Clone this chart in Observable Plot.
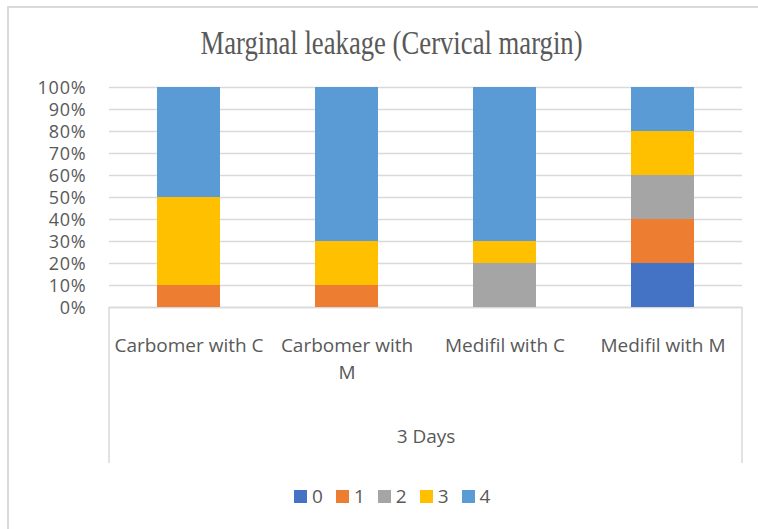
<!DOCTYPE html>
<html>
<head>
<meta charset="utf-8">
<script src="https://cdn.jsdelivr.net/npm/d3@7"></script>
<script src="https://cdn.jsdelivr.net/npm/@observablehq/plot@0.6"></script>
<style>
  html, body { margin: 0; padding: 0; background: #fff; }
  #wrap { position: relative; width: 758px; height: 529px; overflow: hidden; background: #fff; }
  #border { position: absolute; left: 7px; top: 6px; width: 800px; height: 600px;
            border-top: 2px solid #d9d9d9; border-left: 2px solid #d9d9d9; box-sizing: border-box; }
  #chart { position: absolute; left: 0; top: 0; }
  #title { position: absolute; left: 0; top: 32px; width: 783px; text-align: center;
           font-family: "Liberation Serif", "Times New Roman", serif; font-size: 26.7px; line-height: 26.7px;
           color: #595959; transform: scaleY(1.24); transform-origin: 50% 22.4px; white-space: nowrap; }
  #legend { position: absolute; left: 294px; top: 487px; font-family: "Open Sans", sans-serif;
            font-size: 19px; line-height: 19px; color: #595959; white-space: nowrap; }
  #legend .item { display: inline-block; margin-right: 13px; }
  #legend .sw { display: inline-block; width: 13px; height: 13px; margin-right: 5px; vertical-align: baseline; }
  .yax text { letter-spacing: 0.8px; }
</style>
</head>
<body>
<div id="wrap">
  <div id="border"></div>
  <div id="chart"></div>
  <div id="title"></div>
  <div id="legend"></div>
</div>
<script>
const titleText = "Marginal leakage (Cervical margin)";
const categories = ["Carbomer with C", "Carbomer with M", "Medifil with C", "Medifil with M"];
const tickLabels = ["Carbomer with C", "Carbomer with\nM", "Medifil with C", "Medifil with M"];
const groupLabel = "3 Days";
const seriesNames = ["0", "1", "2", "3", "4"];
const values0 = [0, 0, 0, 20];
const values1 = [10, 10, 0, 20];
const values2 = [0, 0, 20, 20];
const values3 = [40, 20, 10, 20];
const values4 = [50, 70, 70, 20];
const seriesColors = ["#4472C4", "#ED7D31", "#A5A5A5", "#FFC000", "#5B9BD5"];
const yTicks = [0, 0.1, 0.2, 0.3, 0.4, 0.5, 0.6, 0.7, 0.8, 0.9, 1];

const allValues = [values0, values1, values2, values3, values4];
const data = seriesNames.flatMap((s, si) =>
  categories.map((c, ci) => ({series: s, category: c, value: allValues[si][ci]}))
);

const W = 758, H = 464;
const chart = Plot.plot({
  width: W,
  height: H,
  marginTop: 87,
  marginLeft: 109,
  marginRight: 16,
  marginBottom: 157,
  style: {fontFamily: "Open Sans, sans-serif", fontSize: "19px", color: "#595959", background: "transparent"},
  x: {domain: categories, paddingInner: 0.6, paddingOuter: 0.3, label: null},
  y: {domain: [0, 1], label: null},
  color: {domain: seriesNames, range: seriesColors},
  marks: [
    Plot.gridY(yTicks, {stroke: "#d9d9d9", strokeOpacity: 1, strokeWidth: 1.5}),
    Plot.ruleY([0], {stroke: "#d9d9d9", strokeWidth: 1.5}),
    Plot.barY(data, Plot.stackY({offset: "normalize"}, {x: "category", y: "value", fill: "series"})),
    Plot.axisY({ticks: yTicks, tickFormat: d3.format(".0%"), tickSize: 0, tickPadding: 23, fontSize: 18, dy: 1,
                fill: "#595959", className: "yax"}),
    Plot.axisX({tickSize: 0, tickPadding: 25.5, fontSize: 19, lineHeight: 1.42, fill: "#595959",
                tickFormat: d => tickLabels[categories.indexOf(d)]}),
    Plot.text([groupLabel], {frameAnchor: "bottom", dy: 135, fontSize: 19, fill: "#595959"})
  ]
});

// group separators of the multi-level category axis, from the x scale range
const xr = chart.scale("x").range;
const y0 = chart.scale("y").apply(0);
const g = d3.select(chart).append("g").attr("stroke", "#d9d9d9").attr("stroke-width", 1.5);
xr.forEach(x => g.append("line").attr("x1", x).attr("x2", x).attr("y1", y0).attr("y2", H - 1));

document.getElementById("chart").appendChild(chart);
document.getElementById("title").textContent = titleText;

const legend = document.getElementById("legend");
seriesNames.forEach((s, i) => {
  const item = document.createElement("span");
  item.className = "item";
  const sw = document.createElement("span");
  sw.className = "sw";
  sw.style.background = seriesColors[i];
  item.appendChild(sw);
  item.appendChild(document.createTextNode(s));
  legend.appendChild(item);
});
</script>
</body>
</html>
